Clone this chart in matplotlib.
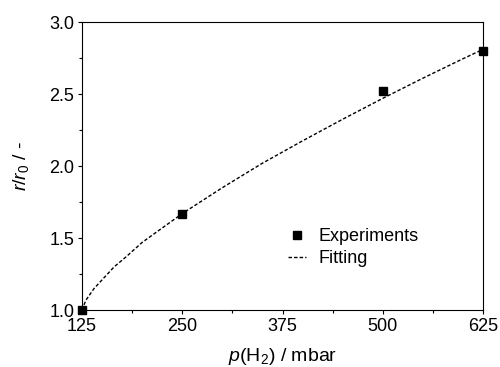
import matplotlib
matplotlib.use("Agg")
import matplotlib.pyplot as plt
from matplotlib.ticker import MultipleLocator, FormatStrFormatter

plt.rcParams['font.family'] = ['Liberation Sans', 'DejaVu Sans']
plt.rcParams['mathtext.fontset'] = 'custom'
plt.rcParams['mathtext.rm'] = 'Liberation Sans'
plt.rcParams['mathtext.it'] = 'Liberation Sans:italic'

# experimental points
p_exp = [125, 250, 500, 625]
r_exp = [1.00, 1.67, 2.52, 2.80]

# fitted curve
p_fit = [125, 127, 130, 135, 140, 150, 165, 180, 200, 225, 250, 300, 350,
         400, 450, 500, 550, 600, 625]
r_fit = [1.00, 1.03, 1.07, 1.11, 1.15, 1.21, 1.30, 1.37, 1.47, 1.57, 1.67,
         1.85, 2.02, 2.175, 2.325, 2.47, 2.61, 2.745, 2.81]

fig = plt.figure(figsize=(5.0, 3.67), dpi=100)
ax = fig.add_axes([0.164, 0.155, 0.802, 0.785])

ax.plot(p_exp, r_exp, 's', color='black', markersize=6.3, clip_on=False,
        label='Experiments', zorder=3)
ax.plot(p_fit, r_fit, '--', color='black', linewidth=1.0, dashes=(2.5, 1.5),
        label='Fitting')

ax.set_xlim(125, 625)
ax.set_ylim(1.0, 3.0)
ax.xaxis.set_major_locator(MultipleLocator(125))
ax.xaxis.set_minor_locator(MultipleLocator(62.5))
ax.yaxis.set_major_locator(MultipleLocator(0.5))
ax.yaxis.set_minor_locator(MultipleLocator(0.25))
ax.yaxis.set_major_formatter(FormatStrFormatter('%.1f'))
ax.tick_params(which='both', direction='out', labelsize=13, top=False, right=False)
ax.tick_params(which='major', length=3, width=0.8, pad=2.5)
ax.tick_params(which='minor', length=2, width=0.8)

ax.set_xlabel(r'$p$(H$_2$) / mbar', fontsize=14, labelpad=8)
ax.set_ylabel(r'$r$/$r_0$ / -', fontsize=14, labelpad=13)

ax.legend(loc='center left', bbox_to_anchor=(0.514, 0.217), frameon=False,
          borderaxespad=0, borderpad=0,
          fontsize=13, handlelength=1.0, handletextpad=0.7, labelspacing=0.3)

fig.savefig('out.png', dpi=100)
